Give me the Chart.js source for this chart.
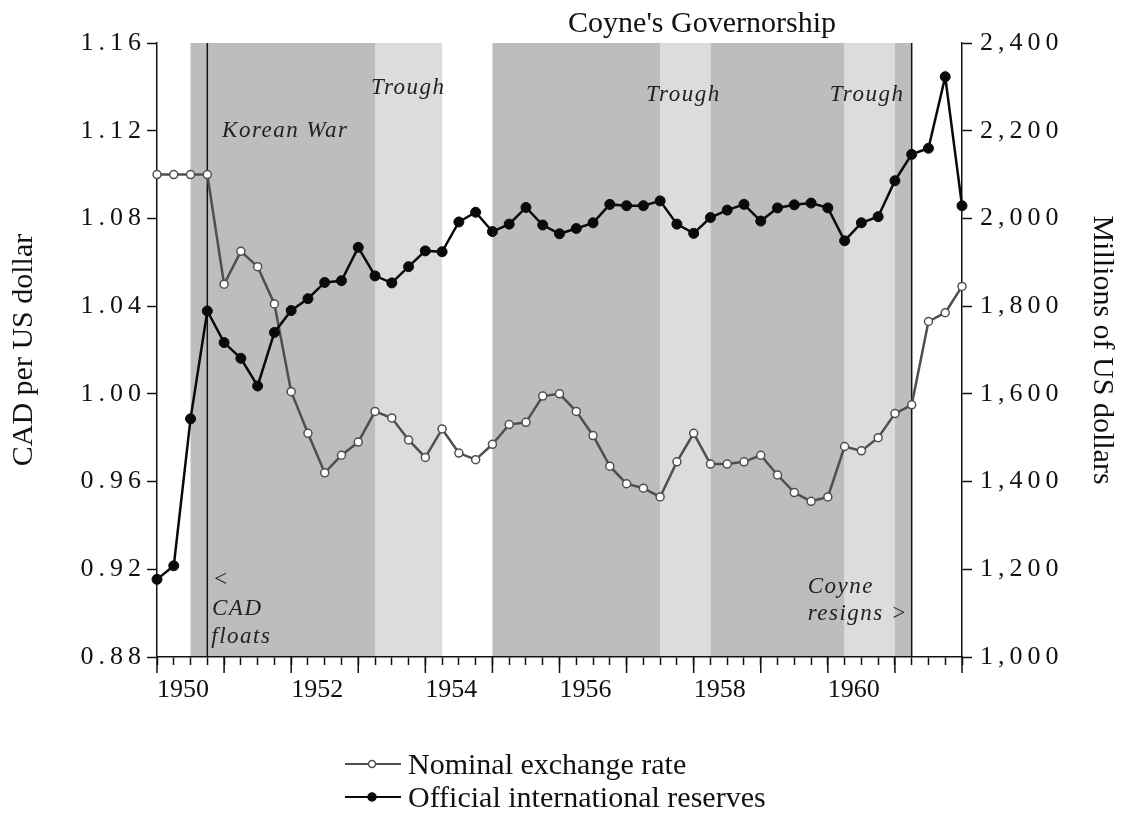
<!DOCTYPE html>
<html>
<head>
<meta charset="utf-8">
<script src="https://cdn.jsdelivr.net/npm/chart.js@4.4.0/dist/chart.umd.min.js"></script>
<style>
    body { margin: 0; background: #fff; }
    #wrap { position: relative; width: 1131px; height: 815px; }
    #legend { position: absolute; left: 345px; top: 747px; font-family: "Liberation Serif", serif; font-size: 30px; color: #111; }
    .linha { display: flex; align-items: center; height: 33px; white-space: nowrap; }
    .linha svg { margin-right: 7px; }
</style>
</head>
<body>
<div id="wrap">
    <canvas id="myChart"></canvas>
    <div id="legend"></div>
</div>
<script>
// quarterly observations, 1950 Q1 to 1962 Q1
const anos = [
    1950, 1950.25, 1950.5, 1950.75, 1951, 1951.25, 1951.5, 1951.75,
    1952, 1952.25, 1952.5, 1952.75, 1953, 1953.25, 1953.5, 1953.75,
    1954, 1954.25, 1954.5, 1954.75, 1955, 1955.25, 1955.5, 1955.75,
    1956, 1956.25, 1956.5, 1956.75, 1957, 1957.25, 1957.5, 1957.75,
    1958, 1958.25, 1958.5, 1958.75, 1959, 1959.25, 1959.5, 1959.75,
    1960, 1960.25, 1960.5, 1960.75, 1961, 1961.25, 1961.5, 1961.75,
    1962
];

// CAD per US dollar
const cambio = [
    1.100, 1.100, 1.100, 1.100, 1.050, 1.065, 1.058, 1.041,
    1.001, 0.982, 0.964, 0.972, 0.978, 0.992, 0.989, 0.979,
    0.971, 0.984, 0.973, 0.970, 0.977, 0.986, 0.987, 0.999,
    1.000, 0.992, 0.981, 0.967, 0.959, 0.957, 0.953, 0.969,
    0.982, 0.968, 0.968, 0.969, 0.972, 0.963, 0.955, 0.951,
    0.953, 0.976, 0.974, 0.980, 0.991, 0.995, 1.033, 1.037,
    1.049
];

// millions of US dollars
const reservas = [
    1177, 1208, 1543, 1789, 1717, 1681, 1618, 1740,
    1790, 1817, 1854, 1858, 1934, 1869, 1853, 1890,
    1926, 1924, 1992, 2014, 1970, 1987, 2025, 1985,
    1965, 1977, 1990, 2032, 2029, 2029, 2040, 1987,
    1966, 2002, 2019, 2032, 1994, 2024, 2031, 2035,
    2024, 1949, 1990, 2004, 2086, 2146, 2160, 2323,
    2029
];

const rotulosAnos = [1950, 1952, 1954, 1956, 1958, 1960];

// shaded periods: Korean War, troughs, Coyne's governorship
const faixaInicio = [1950.5, 1953.25, 1955.0, 1957.5, 1958.25, 1960.25, 1961.0];
const faixaFim = [1953.25, 1954.25, 1957.5, 1958.25, 1960.25, 1961.0, 1961.25];
const faixaTipo = ['escuro', 'claro', 'escuro', 'claro', 'escuro', 'claro', 'escuro'];

const eventos = [1950.75, 1961.25];

const notas = [
    {texto: 'Korean War', x: 1950.97, y: 1.1170},
    {texto: 'Trough', x: 1953.19, y: 1.1367},
    {texto: 'Trough', x: 1957.29, y: 1.1337},
    {texto: 'Trough', x: 1960.03, y: 1.1337},
    {texto: '<', x: 1950.83, y: 0.9124},
    {texto: 'CAD', x: 1950.82, y: 0.8992},
    {texto: 'floats', x: 1950.81, y: 0.8864},
    {texto: 'Coyne', x: 1959.70, y: 0.9093},
    {texto: 'resigns >', x: 1959.70, y: 0.8969},
];

const FONTE = '"Liberation Serif", "Times New Roman", serif';
const cores = {escuro: '#bdbdbd', claro: '#dcdcdc'};

// y tick labels in the original are spaced out
const desenhaRotulos = Chart.Scale.prototype.drawLabels;
Chart.Scale.prototype.drawLabels = function(area) {
    this.ctx.save();
    if (this.axis === 'y') this.ctx.letterSpacing = '5px';
    desenhaRotulos.call(this, area);
    this.ctx.restore();
};

const fundo = {
    id: 'fundo',
    beforeDraw(chart) {
        const {ctx, chartArea: a, scales: {x}} = chart;
        ctx.save();
        for (let i = 0; i < faixaInicio.length; i++) {
            const x0 = x.getPixelForValue(faixaInicio[i]);
            const x1 = x.getPixelForValue(faixaFim[i]);
            ctx.fillStyle = cores[faixaTipo[i]];
            ctx.fillRect(x0, a.top, x1 - x0, a.bottom - a.top);
        }
        ctx.restore();
    },
    beforeDatasetsDraw(chart) {
        const {ctx, chartArea: a, scales: {x, y}} = chart;
        ctx.save();
        ctx.strokeStyle = '#111';
        ctx.lineWidth = 1.5;
        for (const ev of eventos) {
            const px = x.getPixelForValue(ev);
            ctx.beginPath();
            ctx.moveTo(px, a.top);
            ctx.lineTo(px, a.bottom);
            ctx.stroke();
        }
        // longer ticks on whole years
        for (const t of x.ticks) {
            if (t.value % 1 !== 0) continue;
            const px = x.getPixelForValue(t.value);
            ctx.beginPath();
            ctx.moveTo(px, a.bottom);
            ctx.lineTo(px, a.bottom + 16);
            ctx.stroke();
        }
        ctx.fillStyle = '#222';
        ctx.textBaseline = 'alphabetic';
        ctx.textAlign = 'left';
        ctx.font = 'italic 23px ' + FONTE;
        ctx.letterSpacing = '1.5px';
        for (const n of notas) {
            ctx.fillText(n.texto, x.getPixelForValue(n.x), y.getPixelForValue(n.y));
        }
        ctx.letterSpacing = '0px';
        ctx.fillStyle = '#111';
        ctx.textAlign = 'center';
        ctx.font = '30px ' + FONTE;
        const meio = (faixaInicio[2] + faixaFim[6]) / 2;
        ctx.fillText("Coyne's Governorship", x.getPixelForValue(meio), y.getPixelForValue(1.1649));
        ctx.restore();
    }
};

Chart.defaults.color = '#111';
Chart.defaults.font.family = FONTE;

const myChart = new Chart(document.getElementById('myChart'), {
    type: 'line',
    data: {
        datasets: [
            {
                label: 'Nominal exchange rate',
                data: anos.map((a, i) => ({x: a, y: cambio[i]})),
                yAxisID: 'y',
                borderColor: '#4f4f4f',
                borderWidth: 2.5,
                pointRadius: 4,
                pointBackgroundColor: '#fff',
                pointBorderColor: '#4f4f4f',
                pointBorderWidth: 1.5,
                clip: false,
                order: 2
            },
            {
                label: 'Official international reserves',
                data: anos.map((a, i) => ({x: a, y: reservas[i]})),
                yAxisID: 'y1',
                borderColor: '#0a0a0a',
                borderWidth: 2.5,
                pointRadius: 5,
                pointBackgroundColor: '#0a0a0a',
                pointBorderColor: '#0a0a0a',
                pointBorderWidth: 1,
                clip: false,
                order: 1
            }
        ]
    },
    options: {
        responsive: true,
        maintainAspectRatio: false,
        animation: false,
        events: [],
        layout: {padding: {top: 43, left: 0, right: 0, bottom: 0}},
        plugins: {
            legend: {display: false},
            tooltip: {enabled: false}
        },
        scales: {
            x: {
                type: 'linear',
                min: 1950,
                max: 1962,
                afterFit: s => { s.height = 158; },
                border: {display: true, color: '#111', width: 1.5},
                grid: {drawOnChartArea: false, tickLength: 8, tickColor: '#111', tickWidth: 1.5},
                ticks: {
                    stepSize: 0.25,
                    autoSkip: false,
                    maxRotation: 0,
                    align: 'start',
                    padding: 10,
                    font: {size: 26},
                    callback: v => rotulosAnos.includes(v) ? String(v) : ''
                }
            },
            y: {
                position: 'left',
                min: 0.88,
                max: 1.16,
                afterFit: s => { s.width = 157; },
                border: {display: true, color: '#111', width: 1.5},
                grid: {drawOnChartArea: false, tickLength: 10, tickColor: '#111', tickWidth: 1.5},
                ticks: {stepSize: 0.04, padding: 1, font: {size: 26}, callback: v => v.toFixed(2)},
                title: {display: true, text: 'CAD per US dollar', font: {size: 30}, padding: {top: 6, bottom: 0}}
            },
            y1: {
                position: 'right',
                min: 1000,
                max: 2400,
                afterFit: s => { s.width = 169; },
                border: {display: true, color: '#111', width: 1.5},
                grid: {drawOnChartArea: false, tickLength: 10, tickColor: '#111', tickWidth: 1.5},
                ticks: {stepSize: 200, padding: 8, font: {size: 26}, callback: v => v.toLocaleString('en-US')},
                title: {display: true, text: 'Millions of US dollars', font: {size: 30}, padding: {top: 11, bottom: 0}}
            }
        }
    },
    plugins: [fundo]
});

function montaLegenda() {
    const caixa = document.getElementById('legend');
    for (const ds of myChart.data.datasets) {
        const linha = document.createElement('div');
        linha.className = 'linha';
        const r = ds.order === 1 ? 4 : 3.5;
        linha.innerHTML =
            '<svg width="56" height="20"><line x1="0" y1="10" x2="56" y2="10" stroke="' + ds.borderColor +
            '" stroke-width="1.8"/><circle cx="27" cy="10" r="' + r + '" fill="' + ds.pointBackgroundColor +
            '" stroke="' + ds.pointBorderColor + '" stroke-width="1.5"/></svg>';
        const txt = document.createElement('span');
        txt.textContent = ds.label;
        linha.appendChild(txt);
        caixa.appendChild(linha);
    }
}

montaLegenda();
</script>
</body>
</html>
